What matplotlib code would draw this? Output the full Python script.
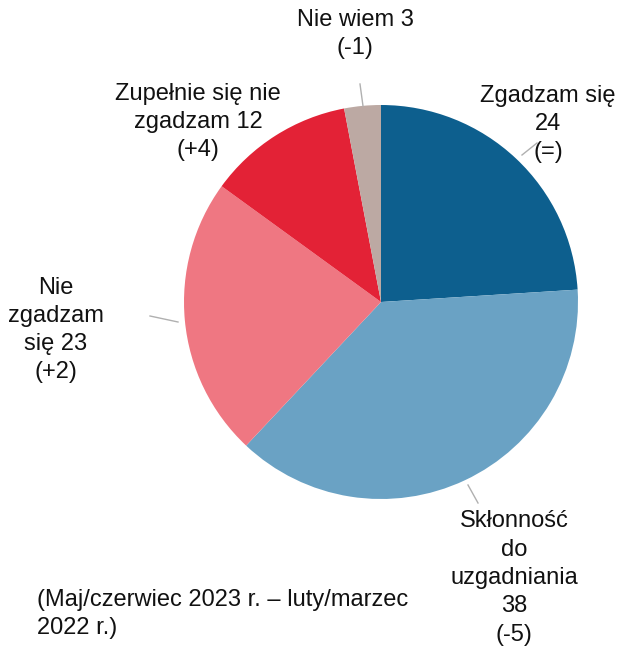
import numpy as np
import matplotlib.pyplot as plt

plt.rcParams['font.family'] = ['Liberation Sans', 'DejaVu Sans']

categories = ["Zgadzam się", "Skłonność do uzgadniania", "Nie zgadzam się",
              "Zupełnie się nie zgadzam", "Nie wiem"]
values = [24, 38, 23, 12, 3]
labels = ["Zgadzam się\n24\n(=)",
          "Skłonność\ndo\nuzgadniania\n38\n(-5)",
          "Nie\nzgadzam\nsię 23\n(+2)",
          "Zupełnie się nie\nzgadzam 12\n(+4)",
          "Nie wiem 3\n(-1)"]
colors = ["#0d5f8e", "#6aa2c4", "#ef7782", "#e32236", "#bca9a3"]

W, H = 620, 649
fig = plt.figure(figsize=(W / 100, H / 100), dpi=100)
ax = fig.add_axes([0, 0, 1, 1])

cx, cy, r = 381, H - 302, 197
ax.pie(values, colors=colors, startangle=90, counterclock=False,
       center=(cx, cy), radius=r, frame=True,
       wedgeprops=dict(linewidth=0))
ax.set_xlim(0, W)
ax.set_ylim(0, H)
ax.set_aspect('equal')
ax.axis('off')

# label positions (pixel coords from top-left)
label_pos = [(548, 124), (514, 578), (56, 330), (198, 122), (355, 34)]
for lab, (x, y) in zip(labels, label_pos):
    ax.text(x, H - y, lab, ha='center', va='center', fontsize=17,
            linespacing=1.37, color='#111111')

leaders = [((522, 155), (537, 143)),
           ((468, 485), (478, 503)),
           ((150, 316), (178, 322)),
           ((360, 84), (363, 106))]
for (x0, y0), (x1, y1) in leaders:
    ax.plot([x0, x1], [H - y0, H - y1], color='#b0b0b0', lw=1)

ax.text(37, H - 614, "(Maj/czerwiec 2023 r. – luty/marzec\n2022 r.)",
        ha='left', va='center', fontsize=17, linespacing=1.37, color='#111111')

fig.savefig("out.png", dpi=100)
